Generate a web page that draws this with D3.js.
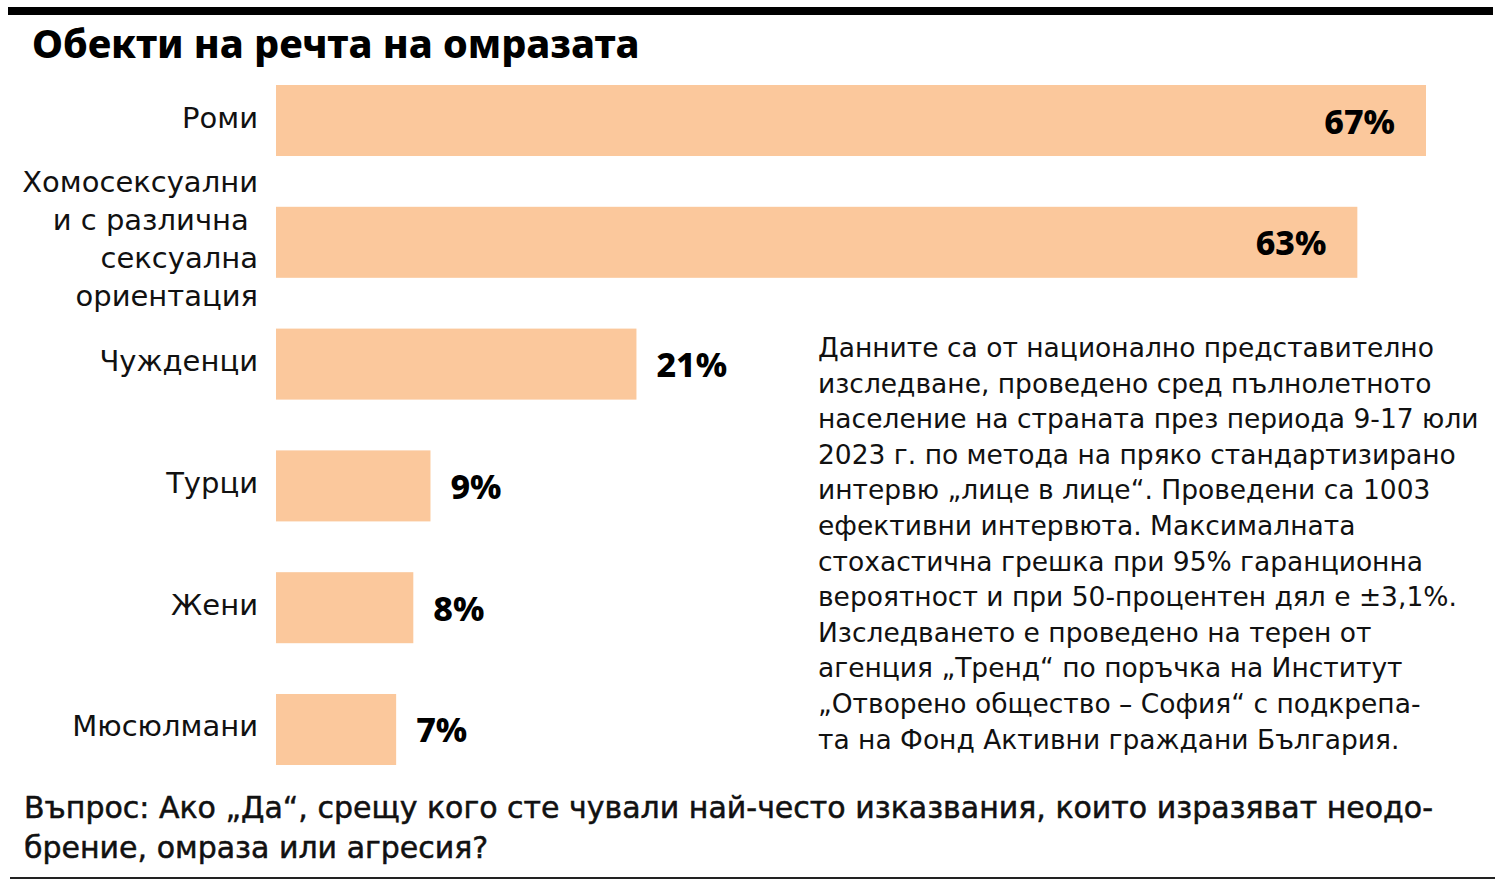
<!DOCTYPE html>
<html>
<head>
<meta charset="utf-8">
<script src="https://cdn.jsdelivr.net/npm/d3@7"></script>
<style>
  body { margin: 0; background: #fff; }
  svg { display: block; font-family: "DejaVu Sans", sans-serif; }
</style>
</head>
<body>
<div id="chart"></div>
<script>
var categories = ["Роми", "Хомосексуални и с различна сексуална ориентация", "Чужденци", "Турци", "Жени", "Мюсюлмани"];
var labelLines = [
    ["Роми"],
    ["Хомосексуални", "и с различна ", "сексуална", "ориентация"],
    ["Чужденци"],
    ["Турци"],
    ["Жени"],
    ["Мюсюлмани"]
];
var values = [67, 63, 21, 9, 8, 7];

var title = "Обекти на речта на омразата";
var noteLines = [
    "Данните са от национално представително",
    "изследване, проведено сред пълнолетното",
    "население на страната през периода 9-17 юли",
    "2023 г. по метода на пряко стандартизирано",
    "интервю „лице в лице“. Проведени са 1003",
    "ефективни интервюта. Максималната",
    "стохастична грешка при 95% гаранционна",
    "вероятност и при 50-процентен дял е ±3,1%.",
    "Изследването е проведено на терен от",
    "агенция „Тренд“ по поръчка на Институт",
    "„Отворено общество – София“ с подкрепа-",
    "та на Фонд Активни граждани България."
];
var questionLines = [
    "Въпрос: Ако „Да“, срещу кого сте чували най-често изказвания, които изразяват неодо-",
    "брение, омраза или агресия?"
];

var width = 1500, height = 886;

var svg = d3.select("#chart").append("svg")
    .attr("width", width)
    .attr("height", height);

// frame lines
svg.append("rect").attr("x", 8).attr("y", 7).attr("width", 1485).attr("height", 8).attr("fill", "#000");
svg.append("rect").attr("x", 10).attr("y", 877).attr("width", 1485).attr("height", 2).attr("fill", "#222");

svg.append("text")
    .attr("x", 32).attr("y", 58)
    .style("font-family", "'Noto Sans', sans-serif")
    .style("font-size", "39.5px").style("font-weight", 800)
    .text(title);

var x = d3.scaleLinear().domain([0, 67]).range([276, 1426]);
var y = d3.scaleBand().domain(categories).range([85, 765]).paddingInner(0.417);

var data = categories.map(function(c, i) {
    return { cat: c, lines: labelLines[i], value: values[i] };
});

var g = svg.append("g");

g.selectAll("rect.bar")
    .data(data)
  .enter().append("rect")
    .attr("class", "bar")
    .attr("x", x(0))
    .attr("y", function(d) { return y(d.cat); })
    .attr("width", function(d) { return x(d.value) - x(0); })
    .attr("height", y.bandwidth())
    .attr("fill", "#fbc89c");

// category labels
var lineH = 38;
g.selectAll("text.cat")
    .data(data)
  .enter().append("text")
    .attr("class", "cat")
    .attr("text-anchor", "end")
    .style("font-size", "29px")
    .attr("fill", "#111")
    .each(function(d) {
        var cy = y(d.cat) + y.bandwidth() / 2;
        var y0 = cy - (d.lines.length - 1) * lineH / 2 + 7;
        var t = d3.select(this);
        d.lines.forEach(function(l, i) {
            t.append("tspan")
                .attr("x", 258)
                .attr("y", y0 + i * lineH)
                .style("white-space", "pre")
                .text(l);
        });
    });

// value labels
g.selectAll("text.val")
    .data(data)
  .enter().append("text")
    .attr("class", "val")
    .attr("x", function(d) { return d.value > 30 ? x(d.value) - 31 : x(d.value) + 20; })
    .attr("y", function(d) { return y(d.cat) + y.bandwidth() / 2 + 13; })
    .attr("text-anchor", function(d) { return d.value > 30 ? "end" : "start"; })
    .style("font-family", "'Noto Sans', sans-serif")
    .style("font-size", "34px").style("font-weight", 800)
    .attr("fill", "#000")
    .text(function(d) { return d.value + "%"; });

// methodology note
var note = svg.append("text")
    .style("font-size", "26.5px")
    .attr("fill", "#111");
noteLines.forEach(function(l, i) {
    note.append("tspan").attr("x", 818).attr("y", 357 + i * 35.6).text(l);
});

// question
var q = svg.append("text")
    .style("font-size", "30px")
    .attr("fill", "#111")
    .attr("stroke", "#111").attr("stroke-width", 0.5);
questionLines.forEach(function(l, i) {
    q.append("tspan").attr("x", 24).attr("y", 818 + i * 40).text(l);
});
</script>
</body>
</html>
